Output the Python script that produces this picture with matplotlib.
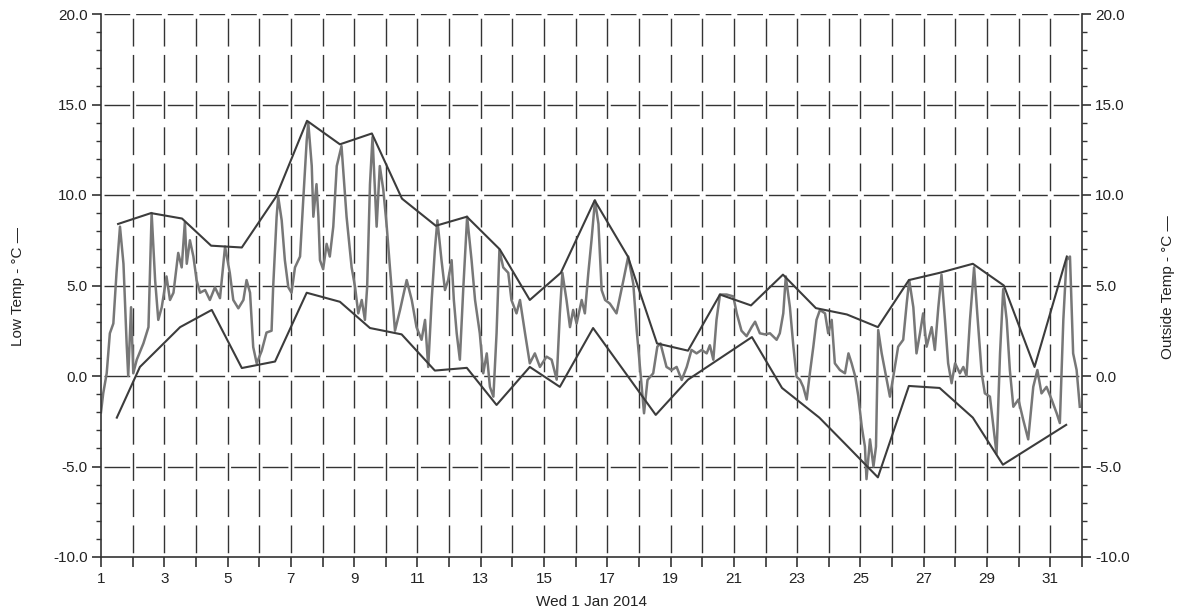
import matplotlib
matplotlib.use("Agg")
import matplotlib.pyplot as plt
from matplotlib.ticker import MultipleLocator, FixedLocator, FormatStrFormatter

plt.rcParams['font.family'] = ['Liberation Sans', 'DejaVu Sans']
plt.rcParams['axes.unicode_minus'] = False

# daily high envelope (day, degC)
high_day = [1.54, 2.58, 3.56, 4.48, 5.45, 6.53, 7.51, 8.55, 9.56, 10.51, 11.58,
            12.56, 13.6, 14.55, 15.53, 16.6, 17.65, 18.57, 19.55, 20.56, 21.54,
            22.55, 23.59, 24.57, 25.55, 26.53, 27.5, 28.55, 29.53, 30.5, 31.52]
high_temp = [8.4, 9.0, 8.7, 7.2, 7.1, 9.9, 14.1, 12.8, 13.4, 9.8, 8.3,
             8.8, 7.0, 4.2, 5.7, 9.7, 6.6, 1.8, 1.4, 4.5, 3.9,
             5.6, 3.75, 3.4, 2.7, 5.3, 5.7, 6.2, 5.0, 0.5, 6.6]

# daily low envelope
low_day = [1.5, 2.23, 3.5, 4.5, 5.45, 6.5, 7.5, 8.55, 9.5, 10.5, 11.55, 12.56,
           13.5, 14.55, 15.5, 16.55, 18.53, 19.55, 21.57, 22.52, 23.7, 24.6,
           25.55, 26.53, 27.5, 28.55, 29.5, 31.5]
low_temp = [-2.3, 0.5, 2.7, 3.65, 0.44, 0.8, 4.6, 4.1, 2.65, 2.3, 0.3, 0.45,
            -1.6, 0.5, -0.6, 2.65, -2.15, -0.2, 2.15, -0.66, -2.3, -3.9,
            -5.6, -0.55, -0.66, -2.3, -4.9, -2.7]

# outside temperature trace
out_day = [1.0, 1.07, 1.18, 1.28, 1.39, 1.49, 1.60, 1.71, 1.81, 1.86, 1.95, 2.02,
           2.13, 2.34, 2.50, 2.60, 2.71, 2.81, 2.92, 3.07, 3.18, 3.29, 3.44, 3.55,
           3.65, 3.71, 3.81, 3.92, 4.02, 4.13, 4.29, 4.44, 4.60, 4.76, 4.92, 5.07,
           5.18, 5.34, 5.50, 5.60, 5.71, 5.81, 5.92, 6.08, 6.23, 6.39, 6.44, 6.55,
           6.60, 6.71, 6.81, 6.92, 7.02, 7.13, 7.29, 7.39, 7.50, 7.55, 7.66, 7.71,
           7.81, 7.87, 7.92, 8.02, 8.13, 8.23, 8.34, 8.45, 8.60, 8.76, 8.92, 9.03,
           9.13, 9.24, 9.34, 9.41, 9.50, 9.58, 9.71, 9.81, 9.92, 10.03, 10.13, 10.29,
           10.45, 10.66, 10.82, 10.97, 11.13, 11.24, 11.34, 11.45, 11.55, 11.63, 11.76, 11.87,
           11.97, 12.08, 12.15, 12.24, 12.34, 12.45, 12.57, 12.71, 12.82, 12.97, 13.08, 13.19,
           13.29, 13.40, 13.50, 13.59, 13.71, 13.87, 13.97, 14.13, 14.24, 14.40, 14.55, 14.71,
           14.87, 15.08, 15.24, 15.40, 15.50, 15.58, 15.71, 15.82, 15.92, 16.03, 16.19, 16.29,
           16.40, 16.50, 16.61, 16.72, 16.82, 16.93, 17.08, 17.29, 17.51, 17.66, 17.82, 17.93,
           18.03, 18.16, 18.27, 18.45, 18.58, 18.68, 18.87, 19.03, 19.19, 19.35, 19.51, 19.66,
           19.82, 19.98, 20.14, 20.24, 20.35, 20.45, 20.56, 20.77, 20.98, 21.09, 21.24, 21.40,
           21.56, 21.67, 21.82, 21.98, 22.14, 22.35, 22.45, 22.56, 22.64, 22.77, 22.88, 22.98,
           23.09, 23.19, 23.30, 23.40, 23.51, 23.61, 23.72, 23.88, 23.98, 24.09, 24.19, 24.35,
           24.51, 24.62, 24.72, 24.83, 24.93, 25.04, 25.14, 25.19, 25.30, 25.41, 25.49, 25.56,
           25.67, 25.83, 25.93, 26.04, 26.19, 26.35, 26.46, 26.54, 26.67, 26.77, 26.88, 26.98,
           27.09, 27.25, 27.35, 27.46, 27.56, 27.67, 27.77, 27.88, 27.99, 28.14, 28.25, 28.35,
           28.46, 28.59, 28.69, 28.83, 28.93, 29.09, 29.20, 29.30, 29.41, 29.51, 29.62, 29.72,
           29.83, 29.99, 30.14, 30.30, 30.46, 30.59, 30.72, 30.88, 31.04, 31.20, 31.30, 31.41,
           31.51, 31.62, 31.72, 31.83, 31.93]
out_temp = [-2.0, -0.96, 0.15, 2.36, 2.9, 5.7, 8.25, 6.2, 1.8, 0.0, 3.8, 0.15,
            0.9, 1.8, 2.7, 9.0, 5.3, 3.1, 3.8, 5.5, 4.2, 4.6, 6.8, 6.0,
            8.5, 6.2, 7.5, 6.6, 5.3, 4.6, 4.75, 4.2, 4.9, 4.3, 7.15, 5.7,
            4.2, 3.74, 4.2, 5.3, 4.6, 1.6, 0.7, 1.4, 2.4, 2.5, 4.9, 8.8,
            9.9, 8.6, 6.4, 4.9, 4.6, 6.0, 6.6, 9.7, 13.0, 14.0, 11.6, 8.8,
            10.6, 8.8, 6.4, 5.9, 7.3, 6.6, 8.25, 11.6, 12.7, 8.8, 6.0, 4.9,
            3.46, 4.2, 3.1, 4.9, 10.6, 13.2, 8.25, 11.6, 10.3, 8.25, 6.0, 2.5,
            3.65, 5.3, 4.2, 2.7, 2.0, 3.1, 0.5, 4.2, 6.96, 8.6, 6.4, 4.75,
            5.3, 6.4, 4.2, 2.36, 0.9, 4.9, 8.8, 6.4, 4.2, 2.36, 0.15, 1.25,
            -0.6, -1.14, 2.36, 6.96, 6.0, 5.7, 4.2, 3.46, 4.2, 2.36, 0.7, 1.25,
            0.5, 1.07, 0.9, -0.2, 3.46, 5.7, 4.2, 2.7, 3.65, 2.9, 4.2, 3.46,
            5.7, 7.5, 9.7, 8.4, 4.75, 4.2, 4.0, 3.46, 5.3, 6.6, 5.1, 2.5,
            0.5, -2.06, -0.22, 0.15, 1.62, 1.8, 0.5, 0.33, 0.5, -0.22, 0.5, 1.44,
            1.25, 1.44, 1.25, 1.7, 0.9, 3.1, 4.5, 4.5, 4.4, 3.46, 2.5, 2.2,
            2.7, 3.0, 2.36, 2.3, 2.36, 2.0, 2.36, 3.46, 5.5, 3.8, 1.62, -0.04,
            -0.22, -0.6, -1.3, 0.15, 1.62, 3.1, 3.65, 3.46, 2.36, 3.1, 0.7, 0.33,
            0.15, 1.25, 0.7, 0.0, -1.1, -2.8, -3.9, -5.7, -3.5, -5.0, -3.9, 2.54,
            1.25, -0.22, -1.14, 0.0, 1.62, 2.0, 4.0, 5.3, 3.8, 1.25, 2.36, 3.46,
            1.62, 2.7, 1.44, 3.8, 5.6, 3.1, 0.7, -0.4, 0.7, 0.15, 0.5, 0.0,
            3.1, 6.0, 3.46, 0.15, -0.96, -1.14, -2.8, -4.3, 1.25, 4.8, 3.1, 0.33,
            -1.7, -1.3, -2.4, -3.5, -0.6, 0.33, -0.96, -0.6, -1.3, -2.06, -2.6, 3.1,
            6.4, 6.6, 1.25, 0.33, -1.7]

days = list(range(1, 33))
day_labels = [str(d) if d % 2 == 1 else '' for d in days]

fig = plt.figure(figsize=(11.77, 6.15), dpi=100)
ax = fig.add_axes([101 / 1177, 1 - 557 / 615, 981 / 1177, 543 / 615])

ax.set_xlim(1, 32)
ax.set_ylim(-10, 20)

# dashed grid, gaps roughly where the lines cross
for d in days[1:-1]:
    ax.axvline(d, color='#333333', lw=1.0, linestyle=(23.0, (20, 6.06)), zorder=1)
for t in [-5, 0, 5, 10, 15, 20]:
    ax.axhline(t, color='#333333', lw=1.0, linestyle=(20.6, (18.5, 4.28)), zorder=1)

ax.plot(out_day, out_temp, color='#777777', lw=1.8, zorder=2)
ax.plot(high_day, high_temp, color='#3c3c3c', lw=1.5, zorder=3)
ax.plot(low_day, low_temp, color='#3c3c3c', lw=1.5, zorder=3)

ax.spines['top'].set_visible(False)
for s in ['left', 'right', 'bottom']:
    ax.spines[s].set_color('#333333')
    ax.spines[s].set_linewidth(1.2)

ax.xaxis.set_major_locator(FixedLocator(days))
ax.set_xticklabels(day_labels)
ax.yaxis.set_major_locator(MultipleLocator(5))
ax.yaxis.set_minor_locator(MultipleLocator(1))
ax.yaxis.set_major_formatter(FormatStrFormatter('%.1f'))

ax.tick_params(axis='x', direction='out', length=7, width=1.2, color='#333333',
               labelsize=11, labelcolor='#222222', pad=4)
ax.tick_params(axis='y', which='major', direction='out', length=6.5, width=1.2,
               color='#333333', left=True, right=True, labelleft=True,
               labelright=True, labelsize=11, labelcolor='#222222', pad=3)
ax.tick_params(axis='y', which='minor', direction='out', length=3.8, width=1.0,
               color='#333333', left=True, right=True)

ax.set_xlabel('Wed 1 Jan 2014', fontsize=11, color='#222222', labelpad=6)
fig.text(18 / 1177, 1 - 287 / 615, 'Low Temp - °C —', rotation=90,
         ha='center', va='center', fontsize=11, color='#222222')
fig.text(1168 / 1177, 1 - 287 / 615, 'Outside Temp - °C —', rotation=90,
         ha='center', va='center', fontsize=11, color='#222222')

fig.savefig('out.png', dpi=100)
